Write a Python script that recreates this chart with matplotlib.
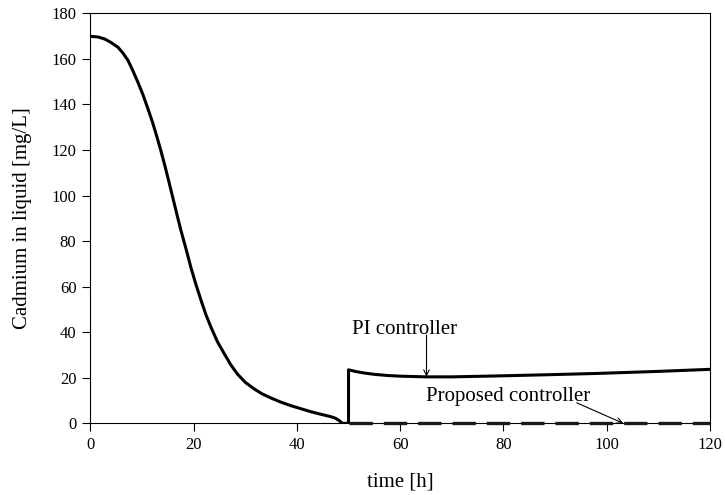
import matplotlib
matplotlib.use("Agg")
from matplotlib import pyplot as plt

# cadmium concentration (time [h], mg/L)
t_pi = [0, 1.5, 2.8, 4.0, 5.35, 6.3, 7.3, 8.2, 9.2, 10.2, 11.15, 12.0, 12.8,
        13.6, 14.4, 15.2, 16.0, 16.8, 17.6, 18.6, 19.5, 20.5, 21.5, 22.4,
        23.4, 24.6, 26.0, 27.2, 28.5, 30.0, 31.8, 33.3, 35.0, 36.9, 38.9,
        40.8, 42.7, 44.6, 46.6, 47.5, 48.2, 48.8, 50.0, 50.0,
        51.5, 53.0, 55.0, 57.5, 60.0, 65.0, 70.0, 78.7, 88.0, 98.1, 110.0, 120.0]
cd_pi = [169.9, 169.6, 168.7, 167.2, 165.1, 162.6, 159.3, 155.0, 149.8, 144.2,
         138.1, 132.5, 126.5, 120.2, 113.4, 106.2, 98.8, 91.4, 84.2, 76.0,
         68.2, 60.6, 53.6, 47.6, 42.0, 35.9, 30.3, 25.7, 21.6, 18.0, 15.0,
         12.9, 11.1, 9.3, 7.7, 6.4, 5.1, 4.0, 2.9, 2.2, 1.2, 0.0, 0.0, 23.5,
         22.7, 22.1, 21.5, 21.0, 20.7, 20.4, 20.4, 20.8, 21.3, 21.9, 22.8, 23.7]

t_prop = [50.0, 120.0]
cd_prop = [0.0, 0.0]

x_ticks = [0, 20, 40, 60, 80, 100, 120]
y_ticks = [0, 20, 40, 60, 80, 100, 120, 140, 160, 180]

plt.rcParams['font.family'] = ['Liberation Serif', 'DejaVu Serif']

fig = plt.figure(figsize=(7.25, 4.95), dpi=100)
ax = fig.add_axes([0.1246, 0.1448, 0.8547, 0.8283])

ax.plot(t_pi, cd_pi, color='black', lw=2.2, solid_joinstyle='round')
ax.plot(t_prop, cd_prop, color='#1a1a1a', lw=2.4, dashes=(7, 3.3),
        clip_on=False, zorder=5)

ax.text(50.7, 41.4, 'PI controller', fontsize=15, va='center', ha='left')
ax.annotate('', xy=(65.1, 20.5), xytext=(65.1, 38.8),
            arrowprops=dict(arrowstyle='->', lw=0.8, color='black',
                            shrinkA=0, shrinkB=0))
ax.text(65.1, 11.7, 'Proposed controller', fontsize=15, va='center', ha='left')
ax.annotate('', xy=(103.2, 0.0), xytext=(94.2, 9.0),
            arrowprops=dict(arrowstyle='->', lw=0.8, color='black',
                            shrinkA=0, shrinkB=0))

ax.set_xlim(0, 120)
ax.set_ylim(0, 180)
ax.set_xticks(x_ticks)
ax.set_yticks(y_ticks)
ax.tick_params(direction='out', length=6, width=0.8, labelsize=12, pad=4)
for s in ax.spines.values():
    s.set_linewidth(0.8)

ax.set_xlabel('time [h]', fontsize=15, labelpad=14)
ax.set_ylabel('Cadmium in liquid [mg/L]', fontsize=15, labelpad=14)

plt.savefig('out.png', dpi=100)
